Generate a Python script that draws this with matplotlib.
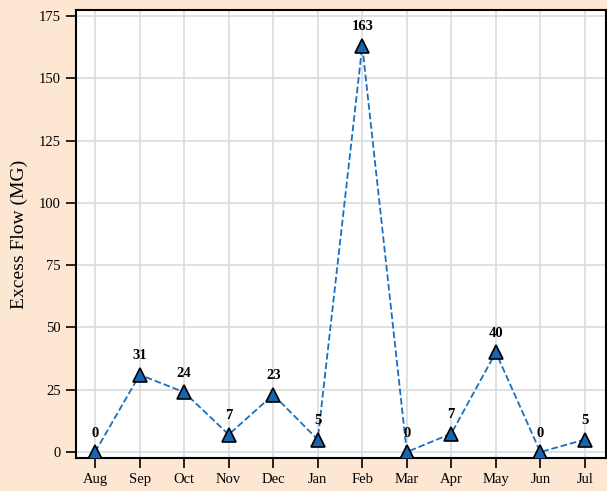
import matplotlib
matplotlib.use("Agg")
import matplotlib.pyplot as plt

months = ["Aug", "Sep", "Oct", "Nov", "Dec", "Jan", "Feb", "Mar", "Apr", "May", "Jun", "Jul"]
values = [0, 31, 24, 7, 23, 5, 163, 0, 7.4, 40, 0, 5]
labels = ["0", "31", "24", "7", "23", "5", "163", "0", "7", "40", "0", "5"]
yticks = [0, 25, 50, 75, 100, 125, 150, 175]

plt.rcParams['font.family'] = ['Liberation Serif', 'DejaVu Serif']

bg = "#fde6d2"
fig = plt.figure(figsize=(6.07, 4.91), dpi=100, facecolor=bg)
ax = fig.add_axes([0.1252, 0.0672, 0.8728, 0.9124])
ax.set_facecolor("white")

x = list(range(len(months)))
ax.plot(x, values, linestyle="--", color="#1a6fc0", linewidth=1.3, zorder=3)
ax.plot(x, values, linestyle="none", marker="^", markersize=10,
        markerfacecolor="#1565b0", markeredgecolor="black", markeredgewidth=1.2, zorder=4)
for xi, v, lab in zip(x, values, labels):
    ax.annotate(lab, (xi, v), xytext=(0, 9), textcoords="offset points",
                ha="center", va="bottom", fontsize=10.5, fontweight="bold")

ax.set_xlim(-0.43, 11.47)
ax.set_ylim(-2.4, 177.4)
ax.set_xticks(x)
ax.set_xticklabels(months)
ax.set_yticks(yticks)
ax.grid(True, color="#dcdcdc", linewidth=1.2, zorder=0)
ax.set_axisbelow(True)
ax.tick_params(direction="out", length=7.5, width=1.2, labelsize=10.5, colors="black", pad=3.5)
for s in ax.spines.values():
    s.set_linewidth(1.5)
    s.set_color("black")
ax.set_ylabel("Excess Flow (MG)", fontsize=14, labelpad=8)

fig.savefig("out.png", dpi=100, facecolor=bg)
